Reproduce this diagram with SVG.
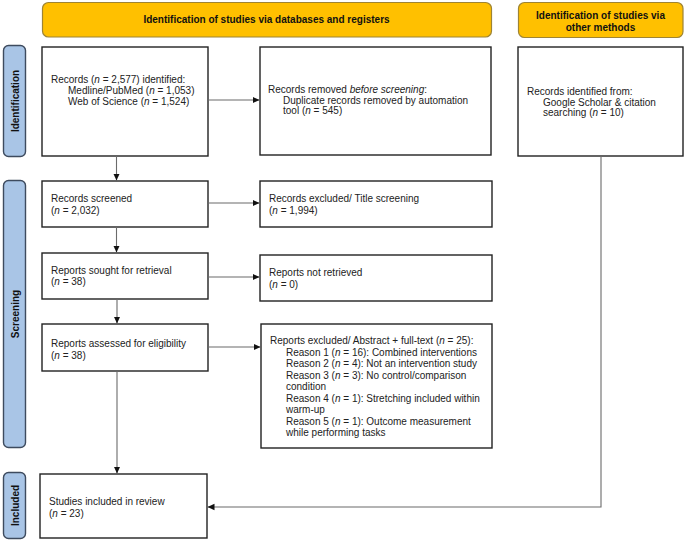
<svg xmlns="http://www.w3.org/2000/svg" width="685" height="542" viewBox="0 0 685 542">
<style>
text{font-family:"Liberation Sans",Arial,sans-serif;font-size:10px;fill:#222}
.b{font-weight:bold;fill:#111}
.i{font-style:italic}
.box{fill:#fff;stroke:#222;stroke-width:1.4}
.ban{fill:#FFC000;stroke:#9E8434;stroke-width:1.2}
.side{fill:#A9C5E6;stroke:#3E4B5E;stroke-width:1.4}
.con{fill:none;stroke:#6b6b6b;stroke-width:1.1}
</style>
<defs>
<marker id="ah" markerUnits="userSpaceOnUse" markerWidth="8" markerHeight="8" refX="7" refY="4" orient="auto">
<path d="M0,0.8 L7,4 L0,7.2 Z" fill="#111"/>
</marker>
</defs>

<g id="banner-db">
<rect class="ban" x="42.5" y="2.5" width="449" height="34.5" rx="6"/>
<text class="b" x="266.5" y="23" text-anchor="middle">Identification of studies via databases and registers</text>
</g>
<g id="banner-other">
<rect class="ban" x="518.5" y="2.5" width="164.5" height="35" rx="6"/>
<text class="b" x="600.5" y="18.5" text-anchor="middle">Identification of studies via</text>
<text class="b" x="600.5" y="30.5" text-anchor="middle">other methods</text>
</g>

<g id="side-identification">
<rect class="side" x="3.5" y="45.5" width="22" height="111" rx="5"/>
<text class="b" transform="translate(18.5,101) rotate(-90)" text-anchor="middle">Identification</text>
</g>
<g id="side-screening">
<rect class="side" x="3.5" y="180.5" width="22" height="267" rx="5"/>
<text class="b" transform="translate(18.5,314) rotate(-90)" text-anchor="middle">Screening</text>
</g>
<g id="side-included">
<rect class="side" x="3.5" y="472.5" width="22" height="66" rx="5"/>
<text class="b" transform="translate(18.5,505.5) rotate(-90)" text-anchor="middle">Included</text>
</g>

<g id="records-identified">
<rect class="box" x="42" y="47" width="166" height="109"/>
<text x="51" y="83">Records (<tspan class="i">n</tspan> = 2,577) identified:</text>
<text x="68" y="94">Medline/PubMed (<tspan class="i">n</tspan> = 1,053)</text>
<text x="68" y="104.5">Web of Science (<tspan class="i">n</tspan> = 1,524)</text>
</g>
<g id="records-removed">
<rect class="box" x="260" y="47" width="231" height="108"/>
<text x="268" y="93">Records removed <tspan class="i">before screening</tspan>:</text>
<text x="283" y="103.5">Duplicate records removed by automation</text>
<text x="283" y="114">tool (<tspan class="i">n</tspan> = 545)</text>
</g>
<g id="records-other">
<rect class="box" x="518" y="47" width="165" height="109"/>
<text x="527" y="94.5">Records identified from:</text>
<text x="543" y="105.5">Google Scholar &amp; citation</text>
<text x="543" y="116">searching (<tspan class="i">n</tspan> = 10)</text>
</g>
<g id="records-screened">
<rect class="box" x="42" y="181" width="166" height="46"/>
<text x="51" y="202">Records screened</text>
<text x="51" y="213.5">(<tspan class="i">n</tspan> = 2,032)</text>
</g>
<g id="records-excluded">
<rect class="box" x="260" y="181" width="232" height="46"/>
<text x="269" y="202">Records excluded/ Title screening</text>
<text x="269" y="213.5">(<tspan class="i">n</tspan> = 1,994)</text>
</g>
<g id="reports-sought">
<rect class="box" x="42" y="253" width="166" height="46"/>
<text x="51" y="273.5">Reports sought for retrieval</text>
<text x="51" y="285">(<tspan class="i">n</tspan> = 38)</text>
</g>
<g id="reports-not-retrieved">
<rect class="box" x="260" y="255" width="232" height="46"/>
<text x="269" y="276">Reports not retrieved</text>
<text x="269" y="287.5">(<tspan class="i">n</tspan> = 0)</text>
</g>
<g id="reports-assessed">
<rect class="box" x="42" y="324" width="166" height="47"/>
<text x="51" y="347">Reports assessed for eligibility</text>
<text x="51" y="358.5">(<tspan class="i">n</tspan> = 38)</text>
</g>
<g id="reports-excluded">
<rect class="box" x="261" y="324" width="231" height="124"/>
<text x="270" y="344.3">Reports excluded/ Abstract + full-text (<tspan class="i">n</tspan> = 25):</text>
<text x="286" y="355.8">Reason 1 (<tspan class="i">n</tspan> = 16): Combined interventions</text>
<text x="286" y="367.3">Reason 2 (<tspan class="i">n</tspan> = 4): Not an intervention study</text>
<text x="286" y="378.8">Reason 3 (<tspan class="i">n</tspan> = 3): No control/comparison</text>
<text x="286" y="390.3">condition</text>
<text x="286" y="401.8">Reason 4 (<tspan class="i">n</tspan> = 1): Stretching included within</text>
<text x="286" y="413.3">warm-up</text>
<text x="286" y="424.8">Reason 5 (<tspan class="i">n</tspan> = 1): Outcome measurement</text>
<text x="286" y="436.3">while performing tasks</text>
</g>
<g id="studies-included">
<rect class="box" x="40" y="474" width="167" height="64"/>
<text x="49" y="505">Studies included in review</text>
<text x="49" y="516.5">(<tspan class="i">n</tspan> = 23)</text>
</g>

<g id="connectors">
<line class="con" x1="116.5" y1="156" x2="116.5" y2="180.5" marker-end="url(#ah)"/>
<line class="con" x1="208" y1="100" x2="259.5" y2="100" marker-end="url(#ah)"/>
<line class="con" x1="208" y1="203" x2="259.5" y2="203" marker-end="url(#ah)"/>
<line class="con" x1="116.5" y1="227" x2="116.5" y2="252.5" marker-end="url(#ah)"/>
<line class="con" x1="208" y1="277" x2="259.5" y2="277" marker-end="url(#ah)"/>
<line class="con" x1="117" y1="299" x2="117" y2="323.5" marker-end="url(#ah)"/>
<line class="con" x1="208" y1="347" x2="260.5" y2="347" marker-end="url(#ah)"/>
<line class="con" x1="117" y1="371" x2="117" y2="473.5" marker-end="url(#ah)"/>
<polyline class="con" points="601,156 601,507 207.5,507" marker-end="url(#ah)"/>
</g>
</svg>
